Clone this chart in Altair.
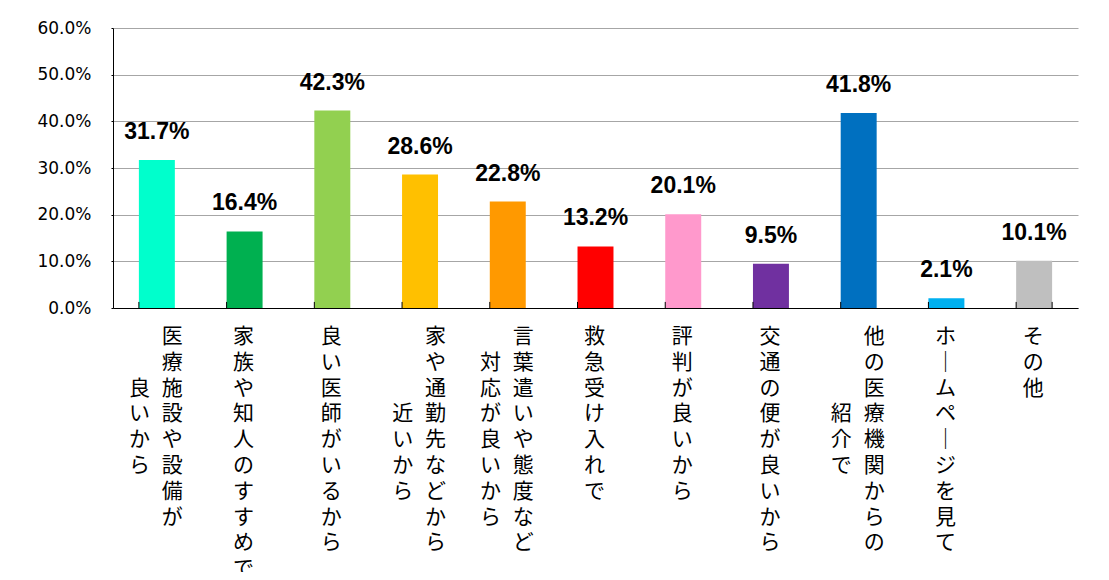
import altair as alt
import pandas as pd

# category text: first (right-hand) column and second (left-hand) column of the vertical label
line1 = ["医療施設や設備が", "家族や知人のすすめで", "良い医師がいるから", "家や通勤先などから",
         "言葉遣いや態度など", "救急受け入れで", "評判が良いから", "交通の便が良いから",
         "他の医療機関からの", "ホームページを見て", "その他"]
line2 = ["良いから", "", "", "近いから", "対応が良いから", "", "", "", "紹介で", "", ""]
values = [31.7, 16.4, 42.3, 28.6, 22.8, 13.2, 20.1, 9.5, 41.8, 2.1, 10.1]
colors = ["#00FFCC", "#00B050", "#92D050", "#FFC000", "#FF9900", "#FF0000",
          "#FF99CC", "#7030A0", "#0070C0", "#00B0F0", "#BFBFBF"]
y_ticks = [0, 10, 20, 30, 40, 50, 60]

GAP = "\u2002\u200a"  # space between the two vertical columns


def vertical(c1, c2):
    c1 = c1.replace("ー", "｜")
    c2 = c2.replace("ー", "｜")
    if not c2:
        return "~".join(list(c1))
    n, m = len(c1), len(c2)
    off = (n - m + 1) // 2
    rows = []
    for i in range(n):
        j = i - off
        rows.append((c2[j] + GAP if 0 <= j < m else "") + c1[i])
    return "~".join(rows)


df = pd.DataFrame({
    "category": [a + b for a, b in zip(line1, line2)],
    "vlabel": [vertical(a, b) for a, b in zip(line1, line2)],
    "two": [bool(b) for b in line2],
    "pct": values,
    "color": colors,
    "idx": list(range(len(values))),
})

order = df["category"].tolist()
y_scale = alt.Scale(domain=[0, 60], nice=False, zero=True)

base = alt.Chart(df)

bars = base.mark_bar().encode(
    x=alt.X("category:N", sort=order,
            scale=alt.Scale(paddingInner=0.59, paddingOuter=0.295),
            axis=alt.Axis(title=None, labels=False, ticks=False, grid=False,
                          domainColor="#000000", domainWidth=1)),
    y=alt.Y("pct:Q", scale=y_scale, axis=alt.Axis(
        title=None, values=y_ticks, labelExpr="format(datum.value, '.1f') + '%'",
        labelFont="DejaVu Sans", labelFontSize=17, labelColor="#000000",
        labelPadding=20, tickSize=2, tickColor="#000000",
        domainColor="#000000", domainWidth=1,
        gridColor="#A6A6A6", gridWidth=1,
    )),
    color=alt.Color("color:N", scale=None),
)

values_text = base.mark_text(
    baseline="bottom", align="center", dy=-16,
    font="Liberation Sans, Arial, sans-serif",
    fontWeight="bold", fontSize=23, color="#000000",
).transform_calculate(
    txt="format(datum.pct, '.1f') + '%'"
).encode(
    x=alt.X("category:N", sort=order),
    y=alt.Y("pct:Q", scale=y_scale),
    text="txt:N",
)

cat_two = base.mark_text(
    align="right", baseline="top", dx=26, dy=18, lineBreak="~",
    font="Noto Sans CJK JP", fontSize=21, lineHeight=25.8, color="#000000",
).transform_filter(alt.datum.two).encode(
    x=alt.X("category:N", sort=order),
    y=alt.datum(0),
    text="vlabel:N",
)

cat_one = base.mark_text(
    align="center", baseline="top", dx=-1, dy=18, lineBreak="~",
    font="Noto Sans CJK JP", fontSize=21, lineHeight=25.8, color="#000000",
).transform_filter(~alt.datum.two).encode(
    x=alt.X("category:N", sort=order),
    y=alt.datum(0),
    text="vlabel:N",
)

ticks_left = base.mark_rule(color="#000000", strokeWidth=1).encode(
    x=alt.X("category:N", sort=order, bandPosition=0),
    y=alt.datum(0),
    y2=alt.datum(1.3),
)

ticks_right = base.mark_rule(color="#000000", strokeWidth=1).transform_filter(
    alt.datum.idx == len(values) - 1
).encode(
    x=alt.X("category:N", sort=order, bandPosition=1),
    y=alt.datum(0),
    y2=alt.datum(1.3),
)

chart = alt.layer(bars, ticks_left, ticks_right, values_text, cat_two, cat_one).properties(
    width=965, height=280,
    autosize=alt.AutoSizeParams(type="none"),
    padding={"left": 105, "top": 20, "right": 20, "bottom": 264},
    background="#FFFFFF",
).configure_view(strokeWidth=0)

chart.save("out.html", embed_options={"renderer": "svg", "actions": False})
